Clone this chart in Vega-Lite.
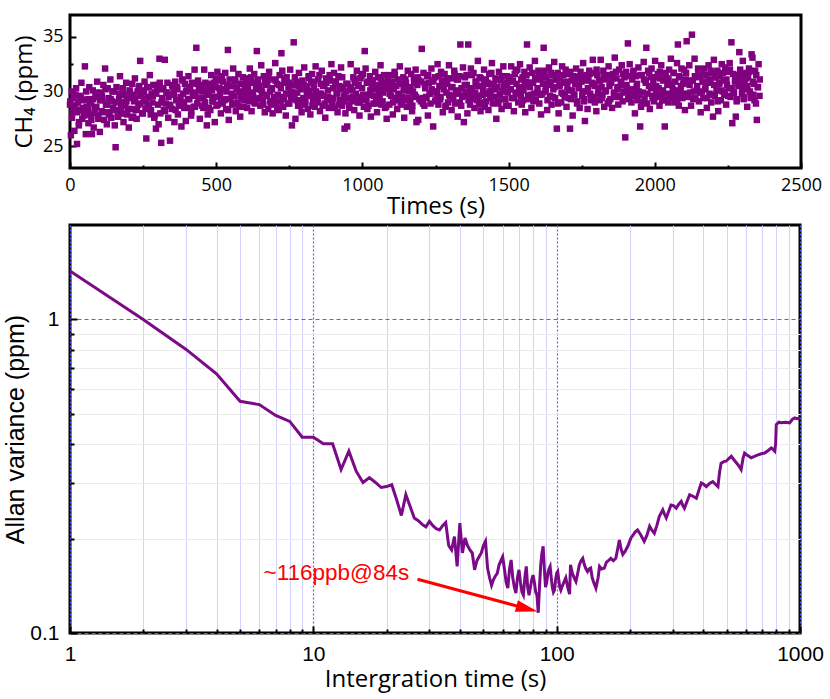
{
"$schema": "https://vega.github.io/schema/vega-lite/v6.json",
"padding": {"left": 2, "top": 13, "right": 3, "bottom": 2},
"spacing": 3,
"config": {
 "view": {"stroke": "black", "strokeWidth": 3},
 "axis": {"domain": false, "labelColor": "black", "titleColor": "black", "titleFontWeight": "normal", "tickColor": "black", "tickWidth": 2, "labelFlush": false}
},
"vconcat": [
{
 "width": 731, "height": 153,
 "data": {"values": [
{"t":0,"c":28.8},{"t":3,"c":26.0},{"t":6,"c":30.0},{"t":9,"c":28.1},{"t":12,"c":29.4},{"t":15,"c":26.4},{"t":18,"c":28.7},{"t":21,"c":30.3},{"t":24,"c":25.2},{"t":27,"c":29.0},
{"t":30,"c":26.9},{"t":33,"c":29.6},{"t":36,"c":28.3},{"t":39,"c":30.8},{"t":42,"c":27.5},{"t":45,"c":29.2},{"t":48,"c":28.0},{"t":51,"c":32.3},{"t":54,"c":26.1},{"t":57,"c":28.6},
{"t":60,"c":29.3},{"t":63,"c":27.1},{"t":66,"c":30.4},{"t":69,"c":27.9},{"t":72,"c":28.9},{"t":75,"c":26.1},{"t":78,"c":30.1},{"t":81,"c":26.7},{"t":84,"c":28.5},{"t":87,"c":29.7},
{"t":90,"c":28.6},{"t":93,"c":30.9},{"t":96,"c":27.8},{"t":99,"c":29.5},{"t":102,"c":26.3},{"t":105,"c":29.9},{"t":108,"c":28.2},{"t":111,"c":29.2},{"t":114,"c":30.6},{"t":117,"c":27.4},
{"t":120,"c":32.1},{"t":123,"c":28.8},{"t":126,"c":27.0},{"t":129,"c":30.3},{"t":132,"c":29.4},{"t":135,"c":28.1},{"t":138,"c":31.1},{"t":141,"c":27.6},{"t":144,"c":29.1},{"t":147,"c":28.5},
{"t":150,"c":30.0},{"t":153,"c":26.9},{"t":156,"c":24.9},{"t":159,"c":30.4},{"t":162,"c":28.3},{"t":165,"c":27.7},{"t":168,"c":29.3},{"t":171,"c":31.4},{"t":174,"c":28.0},{"t":177,"c":29.0},
{"t":180,"c":30.2},{"t":183,"c":27.2},{"t":186,"c":29.7},{"t":189,"c":28.7},{"t":192,"c":30.8},{"t":195,"c":27.9},{"t":198,"c":29.5},{"t":201,"c":26.7},{"t":204,"c":30.1},{"t":207,"c":28.4},
{"t":210,"c":29.4},{"t":213,"c":30.7},{"t":216,"c":27.7},{"t":219,"c":29.1},{"t":222,"c":31.2},{"t":225,"c":28.3},{"t":228,"c":27.5},{"t":231,"c":30.0},{"t":234,"c":28.8},{"t":237,"c":30.5},
{"t":240,"c":32.8},{"t":243,"c":29.6},{"t":246,"c":30.1},{"t":249,"c":28.0},{"t":252,"c":29.3},{"t":255,"c":30.9},{"t":258,"c":28.4},{"t":261,"c":25.7},{"t":264,"c":30.4},{"t":267,"c":29.5},
{"t":270,"c":28.5},{"t":273,"c":31.5},{"t":276,"c":27.9},{"t":279,"c":29.8},{"t":282,"c":29.0},{"t":285,"c":30.6},{"t":288,"c":27.6},{"t":291,"c":29.9},{"t":294,"c":26.6},{"t":297,"c":30.2},
{"t":300,"c":30.6},{"t":303,"c":27.0},{"t":306,"c":33.0},{"t":309,"c":28.0},{"t":312,"c":25.3},{"t":315,"c":29.4},{"t":318,"c":30.2},{"t":321,"c":28.3},{"t":324,"c":32.9},{"t":327,"c":28.9},
{"t":330,"c":29.9},{"t":333,"c":30.8},{"t":336,"c":27.6},{"t":339,"c":28.8},{"t":342,"c":25.5},{"t":345,"c":29.7},{"t":348,"c":28.4},{"t":351,"c":30.5},{"t":354,"c":30.0},{"t":357,"c":27.2},
{"t":360,"c":30.9},{"t":363,"c":29.2},{"t":366,"c":30.4},{"t":369,"c":27.9},{"t":372,"c":28.7},{"t":375,"c":31.6},{"t":378,"c":29.5},{"t":381,"c":26.8},{"t":384,"c":31.1},{"t":387,"c":29.8},
{"t":390,"c":29.0},{"t":393,"c":30.7},{"t":396,"c":27.3},{"t":399,"c":30.1},{"t":402,"c":28.5},{"t":405,"c":31.4},{"t":408,"c":29.3},{"t":411,"c":30.3},{"t":414,"c":27.8},{"t":417,"c":30.8},
{"t":420,"c":29.6},{"t":423,"c":28.6},{"t":426,"c":32.0},{"t":429,"c":29.9},{"t":432,"c":34.0},{"t":435,"c":28.9},{"t":438,"c":31.0},{"t":441,"c":30.2},{"t":444,"c":27.5},{"t":447,"c":30.6},
{"t":450,"c":29.4},{"t":453,"c":30.0},{"t":456,"c":28.5},{"t":459,"c":32.0},{"t":462,"c":29.0},{"t":465,"c":30.3},{"t":468,"c":26.9},{"t":471,"c":27.9},{"t":474,"c":29.7},{"t":477,"c":30.7},
{"t":480,"c":28.3},{"t":483,"c":31.5},{"t":486,"c":30.1},{"t":489,"c":29.1},{"t":492,"c":30.8},{"t":495,"c":27.2},{"t":498,"c":30.4},{"t":501,"c":28.7},{"t":504,"c":31.8},{"t":507,"c":29.5},
{"t":510,"c":31.0},{"t":513,"c":29.8},{"t":516,"c":28.0},{"t":519,"c":31.4},{"t":522,"c":28.9},{"t":525,"c":30.2},{"t":528,"c":29.2},{"t":531,"c":31.7},{"t":534,"c":28.4},{"t":537,"c":30.6},
{"t":540,"c":33.8},{"t":543,"c":27.4},{"t":546,"c":31.1},{"t":549,"c":29.3},{"t":552,"c":30.5},{"t":555,"c":28.8},{"t":558,"c":32.1},{"t":561,"c":29.6},{"t":564,"c":30.9},{"t":567,"c":28.2},
{"t":570,"c":30.3},{"t":573,"c":29.0},{"t":576,"c":31.6},{"t":579,"c":30.0},{"t":582,"c":27.7},{"t":585,"c":30.7},{"t":588,"c":29.4},{"t":591,"c":31.3},{"t":594,"c":28.6},{"t":597,"c":30.1},
{"t":600,"c":29.7},{"t":603,"c":31.2},{"t":606,"c":28.5},{"t":609,"c":30.4},{"t":612,"c":29.1},{"t":615,"c":32.1},{"t":618,"c":29.8},{"t":621,"c":28.2},{"t":624,"c":30.8},{"t":627,"c":29.5},
{"t":630,"c":31.6},{"t":633,"c":28.9},{"t":636,"c":30.2},{"t":639,"c":33.7},{"t":642,"c":31.0},{"t":645,"c":29.3},{"t":648,"c":30.5},{"t":651,"c":28.7},{"t":654,"c":32.4},{"t":657,"c":29.9},
{"t":660,"c":29.2},{"t":663,"c":31.4},{"t":666,"c":28.1},{"t":669,"c":30.6},{"t":672,"c":29.6},{"t":675,"c":30.9},{"t":678,"c":28.4},{"t":681,"c":31.8},{"t":684,"c":30.0},{"t":687,"c":28.8},
{"t":690,"c":30.3},{"t":693,"c":28.0},{"t":696,"c":31.1},{"t":699,"c":29.4},{"t":702,"c":32.6},{"t":705,"c":29.0},{"t":708,"c":30.7},{"t":711,"c":29.7},{"t":714,"c":28.3},{"t":717,"c":31.5},
{"t":720,"c":29.1},{"t":723,"c":33.5},{"t":726,"c":31.9},{"t":729,"c":28.6},{"t":732,"c":29.5},{"t":735,"c":30.8},{"t":738,"c":27.8},{"t":741,"c":31.3},{"t":744,"c":29.8},{"t":747,"c":30.4},
{"t":750,"c":28.9},{"t":753,"c":32.0},{"t":756,"c":29.3},{"t":759,"c":26.9},{"t":762,"c":30.6},{"t":765,"c":34.5},{"t":768,"c":29.6},{"t":771,"c":27.5},{"t":774,"c":30.9},{"t":777,"c":29.9},
{"t":780,"c":28.7},{"t":783,"c":31.7},{"t":786,"c":29.2},{"t":789,"c":30.2},{"t":792,"c":28.1},{"t":795,"c":31.0},{"t":798,"c":29.4},{"t":801,"c":32.2},{"t":804,"c":28.8},{"t":807,"c":30.5},
{"t":810,"c":29.7},{"t":813,"c":28.4},{"t":816,"c":31.4},{"t":819,"c":30.0},{"t":822,"c":27.9},{"t":825,"c":30.8},{"t":828,"c":31.6},{"t":831,"c":29.1},{"t":834,"c":30.3},{"t":837,"c":28.6},
{"t":840,"c":32.3},{"t":843,"c":29.5},{"t":846,"c":29.0},{"t":849,"c":31.1},{"t":852,"c":29.8},{"t":855,"c":28.2},{"t":858,"c":30.7},{"t":861,"c":31.9},{"t":864,"c":28.7},{"t":867,"c":29.6},
{"t":870,"c":30.6},{"t":873,"c":27.6},{"t":876,"c":31.2},{"t":879,"c":29.3},{"t":882,"c":30.1},{"t":885,"c":28.5},{"t":888,"c":31.5},{"t":891,"c":29.2},{"t":894,"c":32.5},{"t":897,"c":28.9},
{"t":900,"c":30.3},{"t":903,"c":31.7},{"t":906,"c":28.5},{"t":909,"c":30.9},{"t":912,"c":29.9},{"t":915,"c":28.1},{"t":918,"c":31.4},{"t":921,"c":30.5},{"t":924,"c":29.2},{"t":927,"c":32.2},
{"t":930,"c":28.7},{"t":933,"c":30.2},{"t":936,"c":29.6},{"t":939,"c":26.6},{"t":942,"c":28.0},{"t":945,"c":30.7},{"t":948,"c":26.8},{"t":951,"c":29.4},{"t":954,"c":28.8},{"t":957,"c":30.4},
{"t":960,"c":32.5},{"t":963,"c":29.1},{"t":966,"c":30.1},{"t":969,"c":31.3},{"t":972,"c":28.3},{"t":975,"c":30.8},{"t":978,"c":29.8},{"t":981,"c":31.9},{"t":984,"c":29.0},{"t":987,"c":30.6},
{"t":990,"c":27.8},{"t":993,"c":31.2},{"t":996,"c":29.5},{"t":999,"c":30.3},{"t":1002,"c":31.6},{"t":1005,"c":28.6},{"t":1008,"c":33.7},{"t":1011,"c":32.1},{"t":1014,"c":29.2},{"t":1017,"c":28.4},
{"t":1020,"c":30.9},{"t":1023,"c":29.7},{"t":1026,"c":31.4},{"t":1029,"c":27.7},{"t":1032,"c":30.5},{"t":1035,"c":31.0},{"t":1038,"c":28.9},{"t":1041,"c":30.2},{"t":1044,"c":31.8},{"t":1047,"c":29.3},
{"t":1050,"c":28.1},{"t":1053,"c":31.3},{"t":1056,"c":30.4},{"t":1059,"c":29.4},{"t":1062,"c":32.4},{"t":1065,"c":28.8},{"t":1068,"c":30.7},{"t":1071,"c":29.9},{"t":1074,"c":31.5},{"t":1077,"c":28.5},
{"t":1080,"c":30.8},{"t":1083,"c":27.5},{"t":1086,"c":31.1},{"t":1089,"c":30.3},{"t":1092,"c":28.8},{"t":1095,"c":31.5},{"t":1098,"c":29.6},{"t":1101,"c":30.9},{"t":1104,"c":27.9},{"t":1107,"c":30.2},
{"t":1110,"c":31.8},{"t":1113,"c":29.2},{"t":1116,"c":30.5},{"t":1119,"c":28.4},{"t":1122,"c":31.1},{"t":1125,"c":29.8},{"t":1128,"c":32.3},{"t":1131,"c":29.0},{"t":1134,"c":30.7},{"t":1137,"c":29.5},
{"t":1140,"c":31.3},{"t":1143,"c":27.6},{"t":1146,"c":30.1},{"t":1149,"c":30.8},{"t":1152,"c":28.6},{"t":1155,"c":31.9},{"t":1158,"c":29.4},{"t":1161,"c":30.4},{"t":1164,"c":29.1},{"t":1167,"c":31.6},
{"t":1170,"c":28.2},{"t":1173,"c":30.0},{"t":1176,"c":31.2},{"t":1179,"c":29.7},{"t":1182,"c":32.0},{"t":1185,"c":27.2},{"t":1188,"c":30.6},{"t":1191,"c":27.4},{"t":1194,"c":31.0},{"t":1197,"c":29.3},
{"t":1200,"c":29.1},{"t":1203,"c":33.9},{"t":1206,"c":29.4},{"t":1209,"c":31.7},{"t":1212,"c":28.7},{"t":1215,"c":30.3},{"t":1218,"c":29.5},{"t":1221,"c":31.4},{"t":1224,"c":27.8},{"t":1227,"c":30.8},
{"t":1230,"c":29.8},{"t":1233,"c":28.9},{"t":1236,"c":32.1},{"t":1239,"c":30.9},{"t":1242,"c":26.8},{"t":1245,"c":30.0},{"t":1248,"c":31.3},{"t":1251,"c":29.2},{"t":1254,"c":29.7},{"t":1257,"c":32.5},
{"t":1260,"c":28.8},{"t":1263,"c":30.5},{"t":1266,"c":29.3},{"t":1269,"c":31.8},{"t":1272,"c":31.0},{"t":1275,"c":28.1},{"t":1278,"c":30.2},{"t":1281,"c":31.6},{"t":1284,"c":28.6},{"t":1287,"c":29.9},
{"t":1290,"c":30.7},{"t":1293,"c":29.0},{"t":1296,"c":32.4},{"t":1299,"c":29.6},{"t":1302,"c":31.2},{"t":1305,"c":28.3},{"t":1308,"c":30.4},{"t":1311,"c":29.4},{"t":1314,"c":31.9},{"t":1317,"c":28.9},
{"t":1320,"c":30.1},{"t":1323,"c":31.1},{"t":1326,"c":27.7},{"t":1329,"c":29.8},{"t":1332,"c":31.4},{"t":1335,"c":34.3},{"t":1338,"c":28.7},{"t":1341,"c":29.5},{"t":1344,"c":32.2},{"t":1347,"c":27.2},
{"t":1350,"c":30.6},{"t":1353,"c":30.0},{"t":1356,"c":31.5},{"t":1359,"c":28.0},{"t":1362,"c":34.3},{"t":1365,"c":29.7},{"t":1368,"c":28.8},{"t":1371,"c":32.1},{"t":1374,"c":30.3},{"t":1377,"c":29.3},
{"t":1380,"c":31.7},{"t":1383,"c":28.5},{"t":1386,"c":29.9},{"t":1389,"c":30.9},{"t":1392,"c":29.2},{"t":1395,"c":32.8},{"t":1398,"c":29.6},{"t":1401,"c":31.3},{"t":1404,"c":28.2},{"t":1407,"c":30.5},
{"t":1410,"c":29.0},{"t":1413,"c":30.2},{"t":1416,"c":32.0},{"t":1419,"c":28.6},{"t":1422,"c":31.1},{"t":1425,"c":29.8},{"t":1428,"c":30.8},{"t":1431,"c":28.3},{"t":1434,"c":31.6},{"t":1437,"c":29.4},
{"t":1440,"c":30.1},{"t":1443,"c":32.6},{"t":1446,"c":28.9},{"t":1449,"c":30.7},{"t":1452,"c":29.5},{"t":1455,"c":31.2},{"t":1458,"c":27.5},{"t":1461,"c":30.4},{"t":1464,"c":29.1},{"t":1467,"c":31.8},
{"t":1470,"c":29.7},{"t":1473,"c":31.0},{"t":1476,"c":28.4},{"t":1479,"c":30.0},{"t":1482,"c":32.3},{"t":1485,"c":29.3},{"t":1488,"c":30.6},{"t":1491,"c":28.7},{"t":1494,"c":31.4},{"t":1497,"c":29.9},
{"t":1500,"c":28.7},{"t":1503,"c":31.2},{"t":1506,"c":30.2},{"t":1509,"c":32.3},{"t":1512,"c":29.4},{"t":1515,"c":31.0},{"t":1518,"c":28.2},{"t":1521,"c":31.6},{"t":1524,"c":29.9},{"t":1527,"c":30.7},
{"t":1530,"c":32.0},{"t":1533,"c":29.0},{"t":1536,"c":30.4},{"t":1539,"c":32.5},{"t":1542,"c":29.6},{"t":1545,"c":28.8},{"t":1548,"c":31.3},{"t":1551,"c":30.1},{"t":1554,"c":31.8},{"t":1557,"c":28.1},
{"t":1560,"c":30.9},{"t":1563,"c":34.3},{"t":1566,"c":29.3},{"t":1569,"c":30.6},{"t":1572,"c":32.2},{"t":1575,"c":29.7},{"t":1578,"c":28.5},{"t":1581,"c":31.7},{"t":1584,"c":30.8},{"t":1587,"c":29.8},
{"t":1590,"c":32.8},{"t":1593,"c":29.2},{"t":1596,"c":31.1},{"t":1599,"c":30.3},{"t":1602,"c":31.9},{"t":1605,"c":28.9},{"t":1608,"c":31.2},{"t":1611,"c":27.9},{"t":1614,"c":31.5},{"t":1617,"c":30.7},
{"t":1620,"c":34.0},{"t":1623,"c":31.9},{"t":1626,"c":30.0},{"t":1629,"c":31.3},{"t":1632,"c":28.3},{"t":1635,"c":30.6},{"t":1638,"c":32.2},{"t":1641,"c":29.6},{"t":1644,"c":30.9},{"t":1647,"c":28.8},
{"t":1650,"c":31.5},{"t":1653,"c":30.2},{"t":1656,"c":32.7},{"t":1659,"c":29.4},{"t":1662,"c":31.1},{"t":1665,"c":26.6},{"t":1668,"c":31.7},{"t":1671,"c":28.0},{"t":1674,"c":30.5},{"t":1677,"c":31.2},
{"t":1680,"c":29.0},{"t":1683,"c":32.3},{"t":1686,"c":29.8},{"t":1689,"c":30.8},{"t":1692,"c":29.5},{"t":1695,"c":32.0},{"t":1698,"c":28.6},{"t":1701,"c":30.4},{"t":1704,"c":31.6},{"t":1707,"c":30.1},
{"t":1710,"c":26.6},{"t":1713,"c":29.3},{"t":1716,"c":31.0},{"t":1719,"c":27.8},{"t":1722,"c":31.4},{"t":1725,"c":29.7},{"t":1728,"c":30.7},{"t":1731,"c":32.1},{"t":1734,"c":28.9},{"t":1737,"c":31.3},
{"t":1740,"c":30.3},{"t":1743,"c":28.5},{"t":1746,"c":31.8},{"t":1749,"c":30.9},{"t":1752,"c":29.6},{"t":1755,"c":32.6},{"t":1758,"c":29.1},{"t":1761,"c":27.3},{"t":1764,"c":30.0},{"t":1767,"c":31.5},
{"t":1770,"c":28.4},{"t":1773,"c":31.1},{"t":1776,"c":31.9},{"t":1779,"c":29.8},{"t":1782,"c":29.2},{"t":1785,"c":30.8},{"t":1788,"c":32.9},{"t":1791,"c":29.5},{"t":1794,"c":30.5},{"t":1797,"c":31.7},
{"t":1800,"c":28.2},{"t":1803,"c":31.5},{"t":1806,"c":29.8},{"t":1809,"c":31.0},{"t":1812,"c":29.2},{"t":1815,"c":32.9},{"t":1818,"c":30.4},{"t":1821,"c":29.7},{"t":1824,"c":31.9},{"t":1827,"c":28.6},
{"t":1830,"c":31.1},{"t":1833,"c":30.1},{"t":1836,"c":31.4},{"t":1839,"c":28.9},{"t":1842,"c":32.3},{"t":1845,"c":30.5},{"t":1848,"c":29.3},{"t":1851,"c":30.8},{"t":1854,"c":28.5},{"t":1857,"c":31.6},
{"t":1860,"c":29.9},{"t":1863,"c":33.1},{"t":1866,"c":29.5},{"t":1869,"c":31.2},{"t":1872,"c":30.2},{"t":1875,"c":28.8},{"t":1878,"c":32.0},{"t":1881,"c":29.6},{"t":1884,"c":30.6},{"t":1887,"c":32.4},
{"t":1890,"c":29.1},{"t":1893,"c":30.0},{"t":1896,"c":31.3},{"t":1899,"c":25.8},{"t":1902,"c":31.8},{"t":1905,"c":30.3},{"t":1908,"c":34.4},{"t":1911,"c":29.4},{"t":1914,"c":32.5},{"t":1917,"c":29.8},
{"t":1920,"c":29.0},{"t":1923,"c":31.1},{"t":1926,"c":31.7},{"t":1929,"c":30.1},{"t":1932,"c":28.0},{"t":1935,"c":31.4},{"t":1938,"c":30.4},{"t":1941,"c":29.2},{"t":1944,"c":32.2},{"t":1947,"c":29.7},
{"t":1950,"c":26.8},{"t":1953,"c":28.6},{"t":1956,"c":31.5},{"t":1959,"c":29.9},{"t":1962,"c":32.7},{"t":1965,"c":29.3},{"t":1968,"c":31.0},{"t":1971,"c":34.0},{"t":1974,"c":28.9},{"t":1977,"c":31.9},
{"t":1980,"c":30.5},{"t":1983,"c":28.4},{"t":1986,"c":31.3},{"t":1989,"c":32.1},{"t":1992,"c":29.6},{"t":1995,"c":30.8},{"t":1998,"c":29.1},{"t":2001,"c":32.8},{"t":2004,"c":30.0},{"t":2007,"c":29.5},
{"t":2010,"c":31.6},{"t":2013,"c":30.3},{"t":2016,"c":28.7},{"t":2019,"c":31.2},{"t":2022,"c":32.4},{"t":2025,"c":29.2},{"t":2028,"c":30.1},{"t":2031,"c":31.1},{"t":2034,"c":26.8},{"t":2037,"c":31.7},
{"t":2040,"c":29.8},{"t":2043,"c":30.6},{"t":2046,"c":29.0},{"t":2049,"c":32.0},{"t":2052,"c":29.7},{"t":2055,"c":33.0},{"t":2058,"c":29.4},{"t":2061,"c":30.2},{"t":2064,"c":31.7},{"t":2067,"c":29.0},
{"t":2070,"c":30.9},{"t":2073,"c":29.6},{"t":2076,"c":32.6},{"t":2079,"c":34.3},{"t":2082,"c":28.7},{"t":2085,"c":31.3},{"t":2088,"c":30.0},{"t":2091,"c":32.1},{"t":2094,"c":29.4},{"t":2097,"c":30.7},
{"t":2100,"c":32.0},{"t":2103,"c":28.3},{"t":2106,"c":31.1},{"t":2109,"c":34.6},{"t":2112,"c":29.5},{"t":2115,"c":30.8},{"t":2118,"c":32.4},{"t":2121,"c":29.9},{"t":2124,"c":28.7},{"t":2127,"c":35.2},
{"t":2130,"c":31.0},{"t":2133,"c":30.0},{"t":2136,"c":33.0},{"t":2139,"c":29.4},{"t":2142,"c":31.3},{"t":2145,"c":30.5},{"t":2148,"c":32.1},{"t":2151,"c":29.1},{"t":2154,"c":31.4},{"t":2157,"c":28.1},
{"t":2160,"c":31.7},{"t":2163,"c":30.9},{"t":2166,"c":29.4},{"t":2169,"c":32.1},{"t":2172,"c":30.2},{"t":2175,"c":31.5},{"t":2178,"c":28.5},{"t":2181,"c":30.8},{"t":2184,"c":32.4},{"t":2187,"c":29.8},
{"t":2190,"c":31.1},{"t":2193,"c":29.0},{"t":2196,"c":31.7},{"t":2199,"c":27.7},{"t":2202,"c":32.9},{"t":2205,"c":29.6},{"t":2208,"c":31.3},{"t":2211,"c":30.1},{"t":2214,"c":31.9},{"t":2217,"c":28.2},
{"t":2220,"c":30.7},{"t":2223,"c":31.4},{"t":2226,"c":29.2},{"t":2229,"c":32.5},{"t":2232,"c":30.0},{"t":2235,"c":31.0},{"t":2238,"c":29.7},{"t":2241,"c":32.2},{"t":2244,"c":28.8},{"t":2247,"c":30.6},
{"t":2250,"c":31.8},{"t":2253,"c":30.3},{"t":2256,"c":32.6},{"t":2259,"c":29.5},{"t":2262,"c":34.5},{"t":2265,"c":27.1},{"t":2268,"c":31.6},{"t":2271,"c":29.9},{"t":2274,"c":30.9},{"t":2277,"c":27.7},
{"t":2280,"c":29.1},{"t":2283,"c":31.5},{"t":2286,"c":30.5},{"t":2289,"c":33.6},{"t":2292,"c":32.0},{"t":2295,"c":31.1},{"t":2298,"c":29.8},{"t":2301,"c":32.8},{"t":2304,"c":29.3},{"t":2307,"c":30.8},
{"t":2310,"c":30.2},{"t":2313,"c":31.7},{"t":2316,"c":28.6},{"t":2319,"c":31.3},{"t":2322,"c":32.1},{"t":2325,"c":30.0},{"t":2328,"c":29.4},{"t":2331,"c":33.4},{"t":2334,"c":33.1},{"t":2337,"c":29.7},
{"t":2340,"c":30.7},{"t":2343,"c":31.9},{"t":2346,"c":28.9},{"t":2349,"c":27.4},{"t":2352,"c":30.4},{"t":2355,"c":32.5},{"t":2358,"c":29.6},
{"t":1,"c":29.1},{"t":7,"c":27.6},{"t":13,"c":28.7},{"t":19,"c":29.7},{"t":25,"c":28.1},{"t":31,"c":27.2},{"t":37,"c":29.4},{"t":43,"c":28.5},{"t":49,"c":27.8},{"t":55,"c":30.0},
{"t":61,"c":28.3},{"t":67,"c":29.0},{"t":73,"c":27.4},{"t":79,"c":29.3},{"t":85,"c":28.0},{"t":91,"c":29.9},{"t":97,"c":27.5},{"t":103,"c":29.2},{"t":109,"c":29.6},{"t":115,"c":28.1},
{"t":121,"c":30.2},{"t":127,"c":28.8},{"t":133,"c":27.9},{"t":139,"c":29.3},{"t":145,"c":30.0},{"t":151,"c":28.3},{"t":157,"c":29.0},{"t":163,"c":27.7},{"t":169,"c":29.8},{"t":175,"c":28.6},
{"t":181,"c":30.3},{"t":187,"c":28.0},{"t":193,"c":29.1},{"t":199,"c":28.4},{"t":205,"c":29.9},{"t":211,"c":27.6},{"t":217,"c":29.7},{"t":223,"c":29.4},{"t":229,"c":28.4},{"t":235,"c":30.3},
{"t":241,"c":28.9},{"t":247,"c":28.0},{"t":253,"c":29.9},{"t":259,"c":29.1},{"t":265,"c":28.7},{"t":271,"c":30.4},{"t":277,"c":28.3},{"t":283,"c":29.6},{"t":289,"c":27.8},{"t":295,"c":29.8},
{"t":301,"c":28.8},{"t":307,"c":30.8},{"t":313,"c":29.0},{"t":319,"c":30.3},{"t":325,"c":28.2},{"t":331,"c":29.9},{"t":337,"c":29.5},{"t":343,"c":28.7},{"t":349,"c":30.6},{"t":355,"c":29.7},
{"t":361,"c":28.3},{"t":367,"c":30.2},{"t":373,"c":29.2},{"t":379,"c":28.9},{"t":385,"c":31.0},{"t":391,"c":28.5},{"t":397,"c":30.0},{"t":403,"c":29.3},{"t":409,"c":30.4},{"t":415,"c":28.1},
{"t":421,"c":29.8},{"t":427,"c":28.6},{"t":433,"c":30.7},{"t":439,"c":29.4},{"t":445,"c":30.1},{"t":451,"c":28.7},{"t":457,"c":29.4},{"t":463,"c":30.8},{"t":469,"c":29.9},{"t":475,"c":28.5},
{"t":481,"c":30.6},{"t":487,"c":29.1},{"t":493,"c":29.5},{"t":499,"c":31.2},{"t":505,"c":28.8},{"t":511,"c":30.3},{"t":517,"c":29.0},{"t":523,"c":30.9},{"t":529,"c":29.3},{"t":535,"c":30.0},
{"t":541,"c":28.3},{"t":547,"c":30.5},{"t":553,"c":29.8},{"t":559,"c":28.9},{"t":565,"c":31.1},{"t":571,"c":30.2},{"t":577,"c":28.6},{"t":583,"c":29.6},{"t":589,"c":30.7},{"t":595,"c":29.2},
{"t":601,"c":30.3},{"t":607,"c":30.7},{"t":613,"c":29.2},{"t":619,"c":31.3},{"t":625,"c":29.9},{"t":631,"c":29.0},{"t":637,"c":30.4},{"t":643,"c":31.1},{"t":649,"c":29.4},{"t":655,"c":30.1},
{"t":661,"c":28.8},{"t":667,"c":30.9},{"t":673,"c":29.7},{"t":679,"c":31.4},{"t":685,"c":29.1},{"t":691,"c":30.2},{"t":697,"c":29.5},{"t":703,"c":31.0},{"t":709,"c":28.5},{"t":715,"c":30.6},
{"t":721,"c":30.3},{"t":727,"c":29.3},{"t":733,"c":31.2},{"t":739,"c":29.8},{"t":745,"c":28.9},{"t":751,"c":30.8},{"t":757,"c":30.0},{"t":763,"c":29.6},{"t":769,"c":31.3},{"t":775,"c":29.2},
{"t":781,"c":30.5},{"t":787,"c":28.7},{"t":793,"c":30.7},{"t":799,"c":30.6},{"t":805,"c":29.1},{"t":811,"c":30.2},{"t":817,"c":31.2},{"t":823,"c":29.6},{"t":829,"c":28.7},{"t":835,"c":30.9},
{"t":841,"c":30.0},{"t":847,"c":29.3},{"t":853,"c":31.5},{"t":859,"c":29.8},{"t":865,"c":30.5},{"t":871,"c":28.9},{"t":877,"c":30.8},{"t":883,"c":29.5},{"t":889,"c":31.0},{"t":895,"c":28.6},
{"t":901,"c":29.4},{"t":907,"c":30.9},{"t":913,"c":29.8},{"t":919,"c":28.8},{"t":925,"c":30.4},{"t":931,"c":31.3},{"t":937,"c":29.1},{"t":943,"c":30.0},{"t":949,"c":30.7},{"t":955,"c":28.5},
{"t":961,"c":30.2},{"t":967,"c":29.5},{"t":973,"c":31.1},{"t":979,"c":29.2},{"t":985,"c":30.5},{"t":991,"c":29.0},{"t":997,"c":31.4},{"t":1003,"c":29.7},{"t":1009,"c":29.3},{"t":1015,"c":30.8},
{"t":1021,"c":28.7},{"t":1027,"c":30.1},{"t":1033,"c":31.0},{"t":1039,"c":29.6},{"t":1045,"c":28.9},{"t":1051,"c":30.6},{"t":1057,"c":29.9},{"t":1063,"c":31.2},{"t":1069,"c":29.1},{"t":1075,"c":30.3},
{"t":1081,"c":28.6},{"t":1087,"c":30.9},{"t":1093,"c":29.8},{"t":1099,"c":30.5},{"t":1105,"c":29.0},{"t":1111,"c":31.5},{"t":1117,"c":29.4},{"t":1123,"c":29.7},{"t":1129,"c":30.7},{"t":1135,"c":28.8},
{"t":1141,"c":30.2},{"t":1147,"c":31.1},{"t":1153,"c":29.2},{"t":1159,"c":30.0},{"t":1165,"c":30.4},{"t":1171,"c":28.7},{"t":1177,"c":30.8},{"t":1183,"c":29.5},{"t":1189,"c":31.3},{"t":1195,"c":29.3},
{"t":1201,"c":30.9},{"t":1207,"c":28.9},{"t":1213,"c":30.7},{"t":1219,"c":29.4},{"t":1225,"c":31.5},{"t":1231,"c":29.8},{"t":1237,"c":30.2},{"t":1243,"c":31.0},{"t":1249,"c":29.1},{"t":1255,"c":30.0},
{"t":1261,"c":31.4},{"t":1267,"c":29.5},{"t":1273,"c":30.5},{"t":1279,"c":30.8},{"t":1285,"c":28.7},{"t":1291,"c":31.2},{"t":1297,"c":29.7},{"t":1303,"c":30.4},{"t":1309,"c":29.3},{"t":1315,"c":31.6},
{"t":1321,"c":29.9},{"t":1327,"c":31.1},{"t":1333,"c":29.0},{"t":1339,"c":30.3},{"t":1345,"c":29.6},{"t":1351,"c":31.3},{"t":1357,"c":30.6},{"t":1363,"c":29.2},{"t":1369,"c":30.1},{"t":1375,"c":31.5},
{"t":1381,"c":29.4},{"t":1387,"c":30.9},{"t":1393,"c":30.5},{"t":1399,"c":28.8},{"t":1405,"c":31.2},{"t":1411,"c":29.7},{"t":1417,"c":31.0},{"t":1423,"c":29.1},{"t":1429,"c":30.7},{"t":1435,"c":30.0},
{"t":1441,"c":31.7},{"t":1447,"c":29.5},{"t":1453,"c":30.2},{"t":1459,"c":31.1},{"t":1465,"c":28.9},{"t":1471,"c":29.8},{"t":1477,"c":31.4},{"t":1483,"c":30.4},{"t":1489,"c":29.3},{"t":1495,"c":30.8},
{"t":1501,"c":31.3},{"t":1507,"c":30.2},{"t":1513,"c":30.9},{"t":1519,"c":29.4},{"t":1525,"c":31.9},{"t":1531,"c":29.8},{"t":1537,"c":30.1},{"t":1543,"c":31.1},{"t":1549,"c":29.2},{"t":1555,"c":30.6},
{"t":1561,"c":31.5},{"t":1567,"c":29.6},{"t":1573,"c":30.4},{"t":1579,"c":30.8},{"t":1585,"c":29.1},{"t":1591,"c":31.2},{"t":1597,"c":29.9},{"t":1603,"c":31.7},{"t":1609,"c":29.7},{"t":1615,"c":29.8},
{"t":1621,"c":31.3},{"t":1627,"c":30.2},{"t":1633,"c":29.2},{"t":1639,"c":30.8},{"t":1645,"c":31.7},{"t":1651,"c":29.5},{"t":1657,"c":30.4},{"t":1663,"c":31.1},{"t":1669,"c":28.9},{"t":1675,"c":30.6},
{"t":1681,"c":29.9},{"t":1687,"c":31.5},{"t":1693,"c":29.6},{"t":1699,"c":30.9},{"t":1705,"c":29.4},{"t":1711,"c":31.8},{"t":1717,"c":30.1},{"t":1723,"c":29.7},{"t":1729,"c":31.2},{"t":1735,"c":29.1},
{"t":1741,"c":30.5},{"t":1747,"c":31.4},{"t":1753,"c":30.0},{"t":1759,"c":29.3},{"t":1765,"c":31.0},{"t":1771,"c":30.3},{"t":1777,"c":31.6},{"t":1783,"c":29.5},{"t":1789,"c":30.7},{"t":1795,"c":29.0},
{"t":1801,"c":32.0},{"t":1807,"c":30.3},{"t":1813,"c":31.0},{"t":1819,"c":29.4},{"t":1825,"c":31.3},{"t":1831,"c":30.0},{"t":1837,"c":31.5},{"t":1843,"c":29.1},{"t":1849,"c":30.8},{"t":1855,"c":31.2},
{"t":1861,"c":29.7},{"t":1867,"c":31.8},{"t":1873,"c":30.4},{"t":1879,"c":29.5},{"t":1885,"c":30.9},{"t":1891,"c":31.6},{"t":1897,"c":29.9},{"t":1903,"c":30.6},{"t":1909,"c":29.3},{"t":1915,"c":31.4},
{"t":1921,"c":30.2},{"t":1927,"c":31.9},{"t":1933,"c":29.6},{"t":1939,"c":30.7},{"t":1945,"c":30.0},{"t":1951,"c":31.5},{"t":1957,"c":29.0},{"t":1963,"c":31.1},{"t":1969,"c":30.8},{"t":1975,"c":29.8},
{"t":1981,"c":31.7},{"t":1987,"c":30.3},{"t":1993,"c":29.4},{"t":1999,"c":31.3},{"t":2005,"c":30.5},{"t":2011,"c":30.1},{"t":2017,"c":31.8},{"t":2023,"c":29.7},{"t":2029,"c":31.0},{"t":2035,"c":29.2},
{"t":2041,"c":31.2},{"t":2047,"c":31.1},{"t":2053,"c":29.6},{"t":2059,"c":30.7},{"t":2065,"c":31.7},{"t":2071,"c":30.1},{"t":2077,"c":29.2},{"t":2083,"c":31.4},{"t":2089,"c":30.5},{"t":2095,"c":29.8},
{"t":2101,"c":30.8},{"t":2107,"c":31.7},{"t":2113,"c":29.8},{"t":2119,"c":30.6},{"t":2125,"c":31.0},{"t":2131,"c":29.3},{"t":2137,"c":31.4},{"t":2143,"c":30.1},{"t":2149,"c":31.9},{"t":2155,"c":29.9},
{"t":2161,"c":30.0},{"t":2167,"c":31.5},{"t":2173,"c":30.4},{"t":2179,"c":29.4},{"t":2185,"c":31.0},{"t":2191,"c":31.9},{"t":2197,"c":29.7},{"t":2203,"c":30.6},{"t":2209,"c":31.3},{"t":2215,"c":29.1},
{"t":2221,"c":30.8},{"t":2227,"c":30.1},{"t":2233,"c":31.7},{"t":2239,"c":29.8},{"t":2245,"c":31.1},{"t":2251,"c":29.6},{"t":2257,"c":32.0},{"t":2263,"c":30.3},{"t":2269,"c":29.9},{"t":2275,"c":31.4},
{"t":2281,"c":29.3},{"t":2287,"c":30.7},{"t":2293,"c":31.6},{"t":2299,"c":30.2},{"t":2305,"c":29.5},{"t":2311,"c":31.2},{"t":2317,"c":30.5},{"t":2323,"c":31.8},{"t":2329,"c":29.7},{"t":2335,"c":30.9},
{"t":2341,"c":29.2},{"t":2347,"c":31.5},{"t":2353,"c":30.4},{"t":2359,"c":31.1}
 ]},
 "layer": [
  {
   "mark": {"type": "point", "shape": "square", "filled": true, "size": 42, "color": "#800080", "opacity": 1},
   "encoding": {
    "x": {"field": "t", "type": "quantitative", "scale": {"domain": [0, 2500], "nice": false},
      "axis": {"orient": "bottom", "values": [0, 500, 1000, 1500, 2000, 2500], "format": "d", "title": "Times (s)", "grid": false, "tickSize": -6, "labelPadding": 14, "labelFont": "Open Sans", "labelFontSize": 18, "titleFont": "Open Sans", "titleFontSize": 24, "titlePadding": 0}},
    "y": {"field": "c", "type": "quantitative", "scale": {"domain": [23, 37], "nice": false, "zero": false},
      "axis": {"orient": "left", "values": [25, 30, 35], "title": "CH₄ (ppm)", "grid": false, "tickSize": -6, "labelPadding": 13, "labelFont": "Open Sans", "labelFontSize": 18, "titleFont": "Open Sans", "titleFontSize": 24, "titlePadding": 6}}
   }
  },
  {
   "transform": [{"filter": "datum.t == 0"}],
   "mark": {"type": "point", "opacity": 0},
   "encoding": {
    "x": {"field": "t", "type": "quantitative", "scale": {"domain": [0, 2500], "nice": false},
      "axis": {"orient": "bottom", "values": [250, 750, 1250, 1750, 2250], "labels": false, "title": null, "grid": false, "tickSize": -3}},
    "y": {"field": "c", "type": "quantitative", "scale": {"domain": [23, 37], "nice": false, "zero": false},
      "axis": {"orient": "left", "values": [27.5, 32.5], "labels": false, "title": null, "grid": false, "tickSize": -3}}
   }
  }
 ],
 "resolve": {"axis": {"x": "independent", "y": "independent"}}
},
{
 "width": 730, "height": 408,
 "layer": [
  {
   "data": {"values": [{"tau":1,"v":1.0}]},
   "mark": {"type": "point", "opacity": 0},
   "encoding": {
    "x": {"field": "tau", "type": "quantitative", "scale": {"type": "log", "domain": [1, 1000], "nice": false},
      "axis": {"orient": "bottom", "values": [2,3,4,5,6,7,8,9,20,30,40,50,60,70,80,90,200,300,400,500,600,700,800,900], "labels": false, "title": null, "grid": true, "gridColor": "#d2d2fc", "gridWidth": 1, "tickSize": -4}},
    "y": {"field": "v", "type": "quantitative", "scale": {"type": "log", "domain": [0.1, 2], "nice": false},
      "axis": {"orient": "left", "values": [0.2,0.3,0.4,0.5,0.6,0.7,0.8,0.9], "labels": false, "title": null, "grid": true, "gridColor": "#ebebeb", "gridWidth": 1, "tickSize": -4}}
   }
  },
  {
   "data": {"values": [
{"tau":1,"v":1.426},{"tau":2,"v":1.0},{"tau":3,"v":0.802},{"tau":4,"v":0.671},{"tau":5,"v":0.548},{"tau":6,"v":0.535},{"tau":7,"v":0.494},{"tau":8,"v":0.473},{"tau":9,"v":0.421},{"tau":10,"v":0.421},
{"tau":11,"v":0.401},{"tau":12,"v":0.401},{"tau":13,"v":0.332},{"tau":14,"v":0.38},{"tau":15,"v":0.328},{"tau":16,"v":0.302},{"tau":17,"v":0.313},{"tau":18,"v":0.302},{"tau":19,"v":0.291},{"tau":20,"v":0.293},
{"tau":21,"v":0.297},{"tau":22,"v":0.266},{"tau":23,"v":0.237},{"tau":24,"v":0.276},{"tau":25,"v":0.253},{"tau":26,"v":0.2325},{"tau":27,"v":0.228},{"tau":28,"v":0.222},{"tau":29,"v":0.218},{"tau":30,"v":0.227},
{"tau":31,"v":0.22},{"tau":32,"v":0.215},{"tau":33,"v":0.213},{"tau":34,"v":0.22},{"tau":35,"v":0.225},{"tau":36,"v":0.19},{"tau":37,"v":0.184},{"tau":38,"v":0.203},{"tau":39,"v":0.163},{"tau":40,"v":0.224},
{"tau":41,"v":0.18},{"tau":42,"v":0.201},{"tau":43,"v":0.19},{"tau":44,"v":0.184},{"tau":45,"v":0.18},{"tau":46,"v":0.159},{"tau":47,"v":0.17},{"tau":48,"v":0.175},{"tau":49,"v":0.18},{"tau":50,"v":0.19},
{"tau":51,"v":0.196},{"tau":52,"v":0.161},{"tau":53,"v":0.15},{"tau":54,"v":0.142},{"tau":55,"v":0.148},{"tau":56,"v":0.152},{"tau":57,"v":0.155},{"tau":58,"v":0.165},{"tau":59,"v":0.17},{"tau":60,"v":0.175},
{"tau":61,"v":0.16},{"tau":62,"v":0.145},{"tau":63,"v":0.139},{"tau":64,"v":0.16},{"tau":65,"v":0.171},{"tau":66,"v":0.15},{"tau":67,"v":0.14},{"tau":68,"v":0.134},{"tau":69,"v":0.15},{"tau":70,"v":0.159},
{"tau":71,"v":0.145},{"tau":72,"v":0.135},{"tau":73,"v":0.132},{"tau":74,"v":0.15},{"tau":75,"v":0.163},{"tau":76,"v":0.14},{"tau":77,"v":0.132},{"tau":78,"v":0.14},{"tau":79,"v":0.148},{"tau":80,"v":0.153},
{"tau":81,"v":0.145},{"tau":82,"v":0.135},{"tau":83,"v":0.132},{"tau":84,"v":0.116},{"tau":85,"v":0.14},{"tau":86,"v":0.165},{"tau":87,"v":0.18},{"tau":88,"v":0.189},{"tau":89,"v":0.16},{"tau":90,"v":0.14},
{"tau":91,"v":0.145},{"tau":92,"v":0.155},{"tau":93,"v":0.16},{"tau":94,"v":0.163},{"tau":95,"v":0.15},{"tau":96,"v":0.14},{"tau":97,"v":0.135},{"tau":98,"v":0.137},{"tau":99,"v":0.148},{"tau":100,"v":0.155},
{"tau":101,"v":0.157},{"tau":102,"v":0.148},{"tau":103,"v":0.14},{"tau":104,"v":0.137},{"tau":105,"v":0.14},{"tau":107,"v":0.145},{"tau":109,"v":0.15},{"tau":111,"v":0.14},{"tau":113,"v":0.133},{"tau":114,"v":0.165},
{"tau":116,"v":0.155},{"tau":118,"v":0.15},{"tau":120,"v":0.146},{"tau":122,"v":0.155},{"tau":124,"v":0.165},{"tau":126,"v":0.17},{"tau":128,"v":0.173},{"tau":130,"v":0.165},{"tau":132,"v":0.16},{"tau":134,"v":0.157},
{"tau":136,"v":0.16},{"tau":138,"v":0.161},{"tau":140,"v":0.15},{"tau":142,"v":0.145},{"tau":145,"v":0.139},{"tau":148,"v":0.15},{"tau":150,"v":0.163},{"tau":153,"v":0.16},{"tau":157,"v":0.161},{"tau":160,"v":0.168},
{"tau":163,"v":0.17},{"tau":167,"v":0.173},{"tau":171,"v":0.17},{"tau":175,"v":0.173},{"tau":178,"v":0.185},{"tau":181,"v":0.198},{"tau":184,"v":0.185},{"tau":187,"v":0.178},{"tau":191,"v":0.182},{"tau":196,"v":0.189},
{"tau":199,"v":0.195},{"tau":202,"v":0.201},{"tau":206,"v":0.205},{"tau":210,"v":0.21},{"tau":215,"v":0.213},{"tau":222,"v":0.205},{"tau":229,"v":0.196},{"tau":235,"v":0.205},{"tau":241,"v":0.219},{"tau":246,"v":0.213},
{"tau":252,"v":0.208},{"tau":258,"v":0.22},{"tau":264,"v":0.235},{"tau":273,"v":0.247},{"tau":277,"v":0.24},{"tau":282,"v":0.233},{"tau":289,"v":0.245},{"tau":295,"v":0.256},{"tau":302,"v":0.255},{"tau":310,"v":0.25},
{"tau":317,"v":0.257},{"tau":325,"v":0.263},{"tau":330,"v":0.255},{"tau":335,"v":0.25},{"tau":343,"v":0.262},{"tau":352,"v":0.276},{"tau":363,"v":0.273},{"tau":375,"v":0.269},{"tau":384,"v":0.285},{"tau":393,"v":0.301},
{"tau":402,"v":0.298},{"tau":412,"v":0.293},{"tau":425,"v":0.3},{"tau":438,"v":0.304},{"tau":449,"v":0.298},{"tau":460,"v":0.293},{"tau":467,"v":0.325},{"tau":474,"v":0.348},{"tau":486,"v":0.352},{"tau":497,"v":0.353},
{"tau":510,"v":0.36},{"tau":522,"v":0.366},{"tau":538,"v":0.355},{"tau":556,"v":0.344},{"tau":565,"v":0.338},{"tau":573,"v":0.332},{"tau":583,"v":0.36},{"tau":592,"v":0.375},{"tau":610,"v":0.368},{"tau":630,"v":0.362},
{"tau":650,"v":0.366},{"tau":672,"v":0.37},{"tau":694,"v":0.373},{"tau":716,"v":0.375},{"tau":740,"v":0.382},{"tau":762,"v":0.389},{"tau":775,"v":0.385},{"tau":787,"v":0.38},{"tau":794,"v":0.4},{"tau":799,"v":0.462},
{"tau":818,"v":0.47},{"tau":838,"v":0.468},{"tau":870,"v":0.47},{"tau":907,"v":0.468},{"tau":930,"v":0.48},{"tau":951,"v":0.485},{"tau":975,"v":0.482},{"tau":1000,"v":0.485}
   ]},
   "mark": {"type": "line", "color": "#7a0a88", "strokeWidth": 3, "clip": true},
   "encoding": {
    "x": {"field": "tau", "type": "quantitative", "scale": {"type": "log", "domain": [1, 1000], "nice": false},
      "axis": {"orient": "bottom", "values": [1, 10, 100, 1000], "format": "d", "title": "Intergration time (s)", "grid": true, "gridColor": "#5c5cff", "gridDash": [2, 2], "gridWidth": 1.2, "tickSize": -7, "labelPadding": 17, "labelFont": "Liberation Sans", "labelFontSize": 21, "titleFont": "Open Sans", "titleFontSize": 24, "titlePadding": 3}},
    "y": {"field": "v", "type": "quantitative", "scale": {"type": "log", "domain": [0.1, 2], "nice": false},
      "axis": {"orient": "left", "values": [0.1, 1], "format": "~g", "title": "Allan variance (ppm)", "grid": true, "gridColor": "#5c5cff", "gridDash": [4, 3], "gridWidth": 1.2, "tickSize": -7, "labelPadding": 18, "labelFont": "Liberation Sans", "labelFontSize": 21, "titleFont": "Liberation Sans", "titleFontSize": 25, "titlePadding": 1}}
   }
  },
  {
   "data": {"values": [{"x1": 26.8, "y1": 0.1484, "x2": 75.2, "y2": 0.1196}]},
   "mark": {"type": "rule", "color": "#ff0000", "strokeWidth": 3},
   "encoding": {
    "x": {"field": "x1", "type": "quantitative", "scale": {"type": "log", "domain": [1, 1000], "nice": false}, "axis": null},
    "y": {"field": "y1", "type": "quantitative", "scale": {"type": "log", "domain": [0.1, 2], "nice": false}, "axis": null},
    "x2": {"field": "x2"},
    "y2": {"field": "y2"}
   }
  },
  {
   "data": {"values": [{"x": 83.5, "y": 0.117}]},
   "mark": {"type": "point", "shape": "M0,0L-1,-0.27L-1,0.27Z", "filled": true, "color": "#ff0000", "opacity": 1, "size": 1936, "angle": 15},
   "encoding": {
    "x": {"field": "x", "type": "quantitative", "scale": {"type": "log", "domain": [1, 1000], "nice": false}, "axis": null},
    "y": {"field": "y", "type": "quantitative", "scale": {"type": "log", "domain": [0.1, 2], "nice": false}, "axis": null}
   }
  },
  {
   "data": {"values": [{"x": 12.43, "y": 0.1477, "label": "~116ppb@84s"}]},
   "mark": {"type": "text", "color": "#ff0000", "font": "Liberation Sans", "fontSize": 22.5, "align": "center", "baseline": "alphabetic"},
   "encoding": {
    "x": {"field": "x", "type": "quantitative", "scale": {"type": "log", "domain": [1, 1000], "nice": false}, "axis": null},
    "y": {"field": "y", "type": "quantitative", "scale": {"type": "log", "domain": [0.1, 2], "nice": false}, "axis": null},
    "text": {"field": "label"}
   }
  }
 ],
 "resolve": {"axis": {"x": "independent", "y": "independent"}}
}
]
}
